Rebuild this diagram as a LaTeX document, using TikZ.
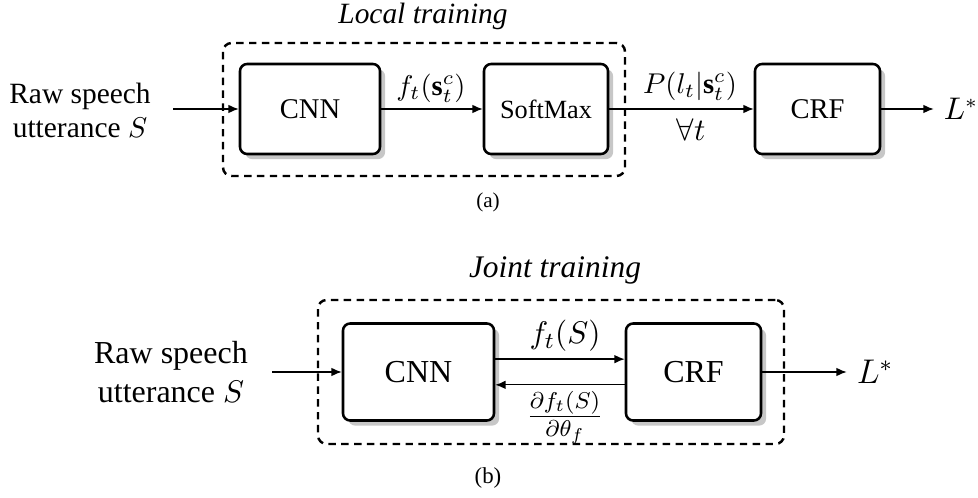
\documentclass[tikz,border=0pt]{standalone}
\usepackage{fontspec}
\setmainfont{Liberation Serif}
\usetikzlibrary{arrows.meta,shadows}
\newcommand{\fsz}[2]{\fontsize{#1}{#2}\selectfont}
\begin{document}
\begin{tikzpicture}[x=0.35pt,y=-0.35pt,
  blk/.style={draw,line width=0.9pt,rounded corners=2.5pt,fill=white,
    drop shadow={shadow xshift=1.8pt,shadow yshift=-1.8pt,fill=black!22,opacity=1},
    inner sep=0pt},
  grp/.style={draw,line width=0.85pt,dash pattern=on 2.6pt off 1.9pt,rounded corners=3pt,inner sep=0pt},
  arr/.style={-{Latex[length=3.6pt,width=3pt]},line width=0.45pt},
]
\useasboundingbox (0,0) rectangle (978,498);

% ---------- (a) ----------
\node[grp,minimum width=140.7pt,minimum height=46.55pt] (grpA) at (424,109.5) {};
\node[font=\fsz{10.3}{12}\itshape] (titA) at (423,16) {Local training};
\node[blk,minimum width=49pt,minimum height=31.5pt,font=\fsz{10}{12}] (cnnA) at (310,109) {CNN};
\node[blk,minimum width=43.4pt,minimum height=31.5pt,font=\fsz{9.2}{11}] (smA) at (546,109) {SoftMax};
\node[blk,minimum width=43.75pt,minimum height=31.5pt,font=\fsz{10}{12}] (crfA) at (817.5,109) {CRF};
\node[align=center,font=\fsz{10.3}{11.9}] (inA) at (80,110) {Raw speech\\utterance $S$};
\coordinate (inAe) at (173,109);
\node[font=\fsz{10.5}{12}] (LA) at (961,109) {$L^*$};
\node[font=\fsz{10}{12}] (lfA) at (431,88) {$f_t(\mathbf{s}_t^c)$};
\node[font=\fsz{10}{12}] (lpA) at (690,86) {$P(l_t|\mathbf{s}_t^c)$};
\node[font=\fsz{10.8}{12}] (lvA) at (691,129.5) {$\forall t$};
\node[font=\fsz{7.4}{9}] (capA) at (488,202) {(a)};
\draw[arr] (inAe) -- (cnnA.west);
\draw[arr] (cnnA.east) -- (smA.west);
\draw[arr] (smA.east) -- (crfA.west);
\draw[arr] (crfA.east) -- (LA.west);

% ---------- (b) ----------
\node[grp,minimum width=163.1pt,minimum height=50.4pt] (grpB) at (551,372) {};
\node[font=\fsz{11}{13}\itshape] (titB) at (555,270) {Joint training};
\node[blk,minimum width=52.85pt,minimum height=33.95pt,font=\fsz{11.2}{13}] (cnnB) at (418.5,372) {CNN};
\node[blk,minimum width=47.25pt,minimum height=33.95pt,font=\fsz{11.2}{13}] (crfB) at (693.5,372) {CRF};
\node[align=center,font=\fsz{11.2}{13.65}] (inB) at (171,372) {Raw speech\\utterance $S$};
\coordinate (inBe) at (272,372);
\node[font=\fsz{11.5}{13}] (LB) at (875,372) {$L^*$};
\node[font=\fsz{11}{13}] (lfB) at (565,336) {$f_t(S)$};
\node[font=\fsz{12}{14}] (ldB) at (565,418) {$\frac{\partial f_t(S)}{\partial\theta_f}$};
\node[font=\fsz{8}{9.6}] (capB) at (488,478) {(b)};
\draw[arr] (inBe) -- (cnnB.west);
\draw[arr] ([yshift=4.5pt]cnnB.east) -- ([yshift=4.5pt]crfB.west);
\draw[arr] ([yshift=-4.5pt]crfB.west) -- ([yshift=-4.5pt]cnnB.east);
\draw[arr] (crfB.east) -- (LB.west);
\end{tikzpicture}
\end{document}
